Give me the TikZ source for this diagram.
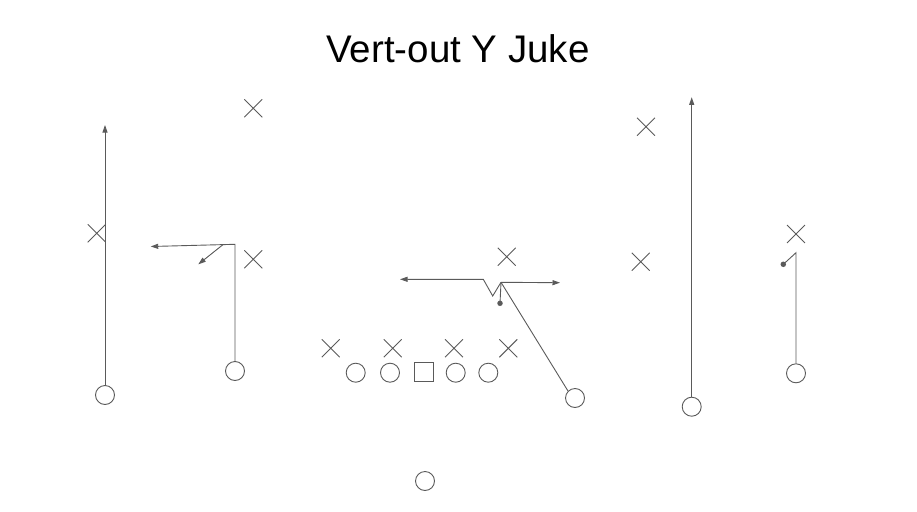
\documentclass[tikz,border=0pt]{standalone}
\usepackage{fontspec}
\setmainfont{Liberation Sans}
\usetikzlibrary{arrows.meta,shapes.misc}
\definecolor{ink}{HTML}{5A5A5A}
\begin{document}
\begin{tikzpicture}[x=1pt,y=-1pt,
  player/.style={draw=ink,circle,line width=0.9pt,minimum size=19pt,inner sep=0pt},
  center/.style={draw=ink,rectangle,line width=0.9pt,minimum size=19pt,inner sep=0pt},
  defender/.style={draw=ink,cross out,line width=0.9pt,minimum size=17pt,inner sep=0pt},
  route/.style={draw=ink,line width=0.9pt},
  arr/.style={route,-{Triangle[length=7.5pt,width=5pt]}},
  stopdot/.style={circle,fill=ink,minimum size=5.5pt,inner sep=0pt}]
\useasboundingbox (0,0) rectangle (917,511);
\node[anchor=base,inner sep=0pt] (title) at (458,62.5) {\fontsize{38.5}{42}\selectfont Vert-out Y Juke};
% defenders
\node[defender] (d1) at (253.3,108.3) {};
\node[defender] (d2) at (96.7,233.3) {};
\node[defender] (d3) at (253.3,259.3) {};
\node[defender] (d4) at (506.7,256.7) {};
\node[defender] (d5) at (646,126.7) {};
\node[defender] (d6) at (640.7,261.7) {};
\node[defender] (d7) at (796,234) {};
\node[defender] (dl1) at (330.7,348.3) {};
\node[defender] (dl2) at (392.7,348.3) {};
\node[defender] (dl3) at (454,348.3) {};
\node[defender] (dl4) at (508.3,348.3) {};
% offense
\node[player] (ol1) at (355.7,372.7) {};
\node[player] (ol2) at (390,372.7) {};
\node[center] (c) at (424,371.5) {};
\node[player] (ol3) at (455.7,372.7) {};
\node[player] (ol4) at (488.3,372.7) {};
\node[player] (qb) at (425,481) {};
\node[player] (wl) at (105,395) {};
\node[player] (sl) at (235,371) {};
\node[player] (y) at (575,398) {};
\node[player] (wr) at (691.7,406.7) {};
\node[player] (sr) at (796,373.3) {};
% route points
\coordinate (wlend) at (105,125);
\coordinate (slcorner) at (235,244.3);
\coordinate (slend) at (150.7,246.5);
\coordinate (slbranch) at (223.3,244.4);
\coordinate (slbend) at (198.3,264.3);
\coordinate (ybreak) at (501,282.3);
\coordinate (yvdown) at (492.7,296);
\coordinate (yvup) at (483.3,279.3);
\coordinate (yleft) at (400,279.3);
\coordinate (yright) at (560,282.7);
\node[stopdot] (ydot) at (500,303.3) {};
\coordinate (wrend) at (691.7,97.3);
\coordinate (srcorner) at (796,252.7);
\node[stopdot] (srdot) at (783.3,264.3) {};
% routes
\draw[arr] (wl.north) -- (wlend);
\draw[arr] (sl.north) -- (slcorner) -- (slend);
\draw[arr] (slbranch) -- (slbend);
\draw[route] (y.north west) -- (ybreak);
\draw[arr] (ybreak) -- (yvdown) -- (yvup) -- (yleft);
\draw[arr] (ybreak) -- (yright);
\draw[route] (ybreak) -- (ydot.center);
\draw[arr] (wr.north) -- (wrend);
\draw[route] (sr.north) -- (srcorner) -- (srdot.center);
\end{tikzpicture}
\end{document}
